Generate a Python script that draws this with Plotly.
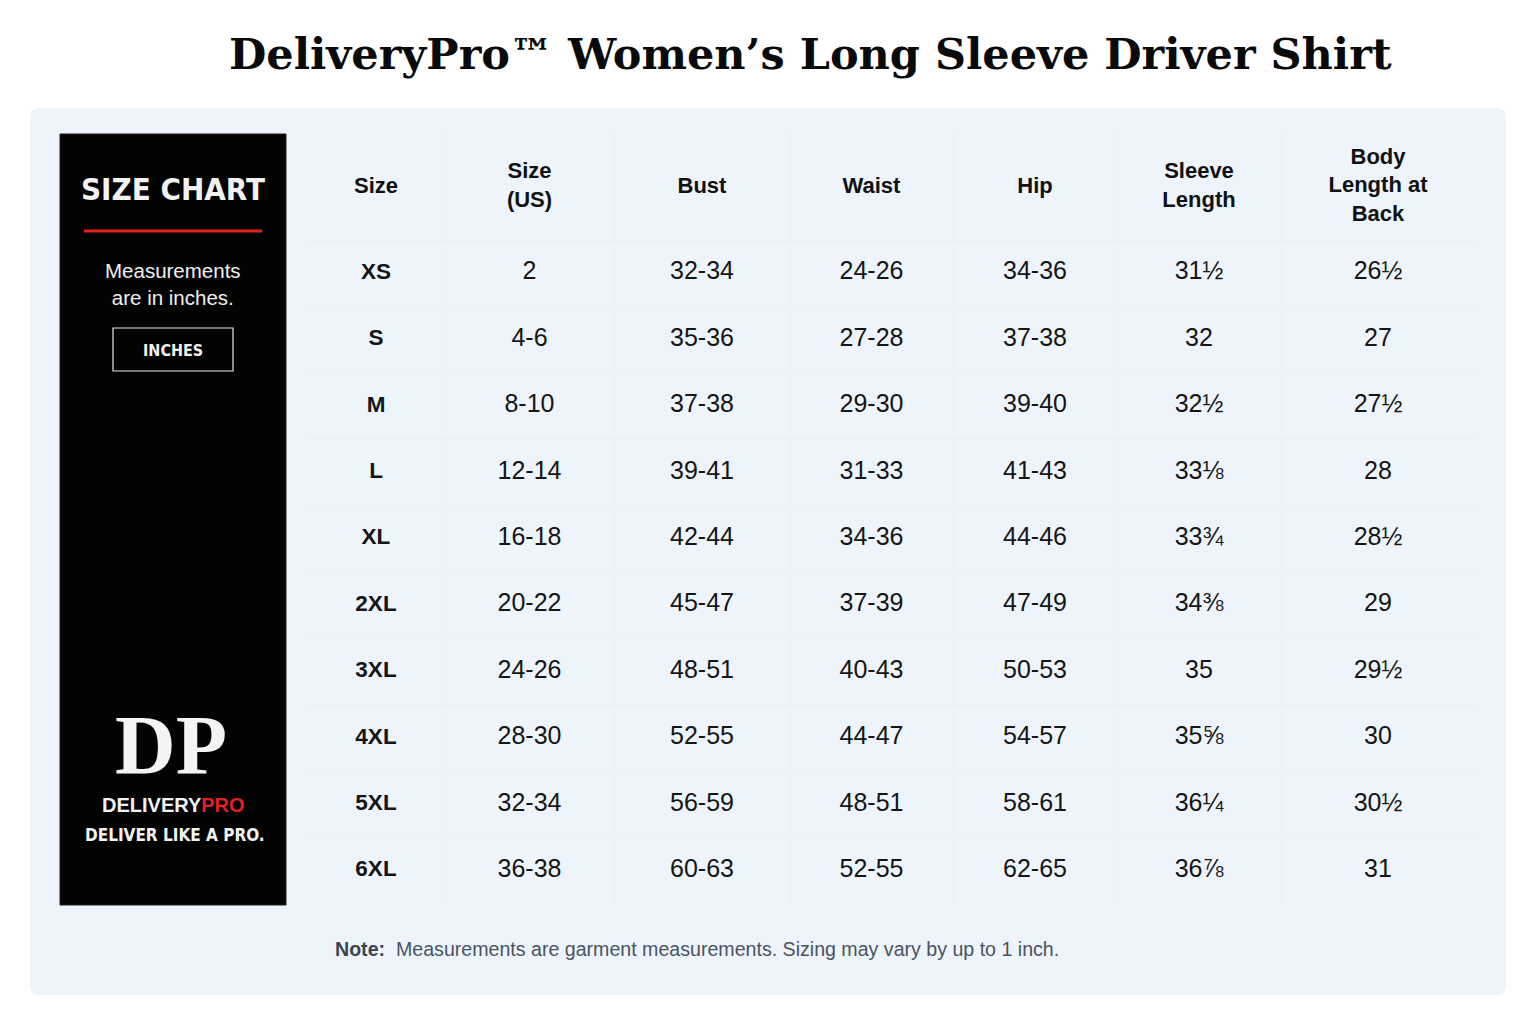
import plotly.graph_objects as go

# ---------------- data ----------------
columns = ["Size", "Size<br>(US)", "Bust", "Waist", "Hip", "Sleeve<br>Length", "Body<br>Length at<br>Back"]
sizes = ["XS", "S", "M", "L", "XL", "2XL", "3XL", "4XL", "5XL", "6XL"]
size_us = ["2", "4-6", "8-10", "12-14", "16-18", "20-22", "24-26", "28-30", "32-34", "36-38"]
bust = ["32-34", "35-36", "37-38", "39-41", "42-44", "45-47", "48-51", "52-55", "56-59", "60-63"]
waist = ["24-26", "27-28", "29-30", "31-33", "34-36", "37-39", "40-43", "44-47", "48-51", "52-55"]
hip = ["34-36", "37-38", "39-40", "41-43", "44-46", "47-49", "50-53", "54-57", "58-61", "62-65"]
sleeve = ["31½", "32", "32½", "33⅛", "33¾", "34⅜", "35", "35⅝", "36¼", "36⅞"]
body_len = ["26½", "27", "27½", "28", "28½", "29", "29½", "30", "30½", "31"]

title_text = "DeliveryPro™ Women’s Long Sleeve Driver Shirt"
note_label = "Note:"
note_text = "Measurements are garment measurements. Sizing may vary by up to 1 inch."

# ---------------- layout geometry (styles) ----------------
W, H = 1536, 1024
col_widths = [138, 169, 176, 163, 164, 164, 194]
header_h = 106
row_h = 66.4
tbl_left, tbl_top = 307, 134

n_rows = len(sizes)
total_w = sum(col_widths)
total_h = header_h + row_h * n_rows
edges = [0]
for w in col_widths:
    edges.append(edges[-1] + w)
centers = [(edges[i] + edges[i + 1]) / 2 for i in range(len(col_widths))]
row_edges = [header_h + row_h * i for i in range(n_rows + 1)]
row_centers = [header_h + row_h * (i + 0.5) for i in range(n_rows)]

table_cols = [sizes, size_us, bust, waist, hip, sleeve, body_len]

SANS = "Liberation Sans, Arial, Helvetica, sans-serif"
NARROW = "DejaVu Sans Condensed, Liberation Sans Narrow, Arial Narrow, sans-serif"

fig = go.Figure()

# header
fig.add_trace(go.Scatter(
    x=centers, y=[header_h / 2] * len(columns), text=columns, mode="text",
    textposition="middle center",
    textfont=dict(family=SANS, size=22, color="#111111", weight="bold"),
    hoverinfo="skip", showlegend=False,
))

# body
for j, vals in enumerate(table_cols):
    bold = (j == 0)
    fig.add_trace(go.Scatter(
        x=[centers[j]] * len(vals), y=row_centers, text=vals, mode="text",
        textposition="middle center",
        textfont=dict(family=SANS, size=22.5 if bold else 25, color="#151515",
                      weight="bold" if bold else "normal"),
        hoverinfo="skip", showlegend=False,
    ))


def px(x):
    return x / W


def py(y):
    return 1 - y / H


# rounded light-blue panel
x0, y0, x1, y1, r = 30, 108, 1506, 995, 10
path = (f"M {px(x0 + r)},{py(y0)} L {px(x1 - r)},{py(y0)} Q {px(x1)},{py(y0)} {px(x1)},{py(y0 + r)} "
        f"L {px(x1)},{py(y1 - r)} Q {px(x1)},{py(y1)} {px(x1 - r)},{py(y1)} "
        f"L {px(x0 + r)},{py(y1)} Q {px(x0)},{py(y1)} {px(x0)},{py(y1 - r)} "
        f"L {px(x0)},{py(y0 + r)} Q {px(x0)},{py(y0)} {px(x0 + r)},{py(y0)} Z")

shapes = [
    dict(type="path", xref="paper", yref="paper", path=path,
         fillcolor="#EDF4FB", line=dict(width=0), layer="below"),
    # black side panel
    dict(type="rect", xref="paper", yref="paper", x0=px(60), x1=px(286), y0=py(905), y1=py(134),
         fillcolor="#030303", line=dict(color="#222222", width=1), layer="below"),
    # red rule
    dict(type="line", xref="paper", yref="paper", x0=px(84), x1=px(262), y0=py(231), y1=py(231),
         line=dict(color="#E3211E", width=3)),
    # INCHES box
    dict(type="rect", xref="paper", yref="paper", x0=px(113), x1=px(233), y0=py(371), y1=py(328),
         fillcolor="rgba(0,0,0,0)", line=dict(color="#E8E8E8", width=1.2)),
]

annotations = [
    dict(text=f"<b>{title_text}</b>", x=px(810), y=py(54), xref="paper", yref="paper",
         showarrow=False, xanchor="center", yanchor="middle",
         font=dict(family="DejaVu Serif, Liberation Serif, serif", size=43, color="#0A0A0A")),
    dict(text="<b>SIZE CHART</b>", x=px(173), y=py(189), xref="paper", yref="paper",
         showarrow=False, xanchor="center", yanchor="middle",
         font=dict(family=NARROW, size=31, color="#F2F2F2")),
    dict(text="Measurements<br>are in inches.", x=px(173), y=py(284), xref="paper", yref="paper",
         showarrow=False, xanchor="center", yanchor="middle",
         font=dict(family=SANS, size=20.5, color="#F0F0F0")),
    dict(text="<b>INCHES</b>", x=px(173), y=py(350), xref="paper", yref="paper",
         showarrow=False, xanchor="center", yanchor="middle",
         font=dict(family=NARROW, size=16, color="#F2F2F2")),
    dict(text="<b>DP</b>", x=px(171), y=py(745), xref="paper", yref="paper",
         showarrow=False, xanchor="center", yanchor="middle",
         font=dict(family="Liberation Serif, Times New Roman, serif", size=84, color="#F4F4F4")),
    dict(text="<b>DELIVERY<span style='color:#E3211E'>PRO</span></b>", x=px(173), y=py(805),
         xref="paper", yref="paper", showarrow=False, xanchor="center", yanchor="middle",
         font=dict(family=SANS, size=20, color="#F2F2F2")),
    dict(text="<b>DELIVER LIKE A PRO.</b>", x=px(175), y=py(835), xref="paper", yref="paper",
         showarrow=False, xanchor="center", yanchor="middle",
         font=dict(family=NARROW, size=17, color="#F2F2F2")),
    dict(text=f"<b><span style='color:#3A4350'>{note_label}</span></b>  {note_text}",
         x=px(333), y=py(949), xref="paper", yref="paper", showarrow=False,
         xanchor="left", yanchor="middle",
         font=dict(family=SANS, size=19.6, color="#4A5361")),
]

fig.update_layout(
    width=W, height=H,
    margin=dict(l=0, r=0, t=0, b=0),
    paper_bgcolor="white", plot_bgcolor="white",
    shapes=shapes, annotations=annotations,
    showlegend=False,
    xaxis=dict(domain=[px(tbl_left), px(tbl_left + total_w)], range=[0, total_w],
               tickvals=edges[1:-1], showgrid=True, gridcolor="#ECEEF1", gridwidth=1,
               showticklabels=False, ticks="", zeroline=False, showline=False, fixedrange=True),
    yaxis=dict(domain=[py(tbl_top + total_h), py(tbl_top)], range=[total_h, 0],
               tickvals=row_edges[:-1], showgrid=True, gridcolor="#ECEEF1", gridwidth=1,
               showticklabels=False, ticks="", zeroline=False, showline=False, fixedrange=True),
)

fig.write_html("out.html",
               config={"displayModeBar": False},
               post_script="document.body.style.margin='0';document.body.style.overflow='hidden';")
